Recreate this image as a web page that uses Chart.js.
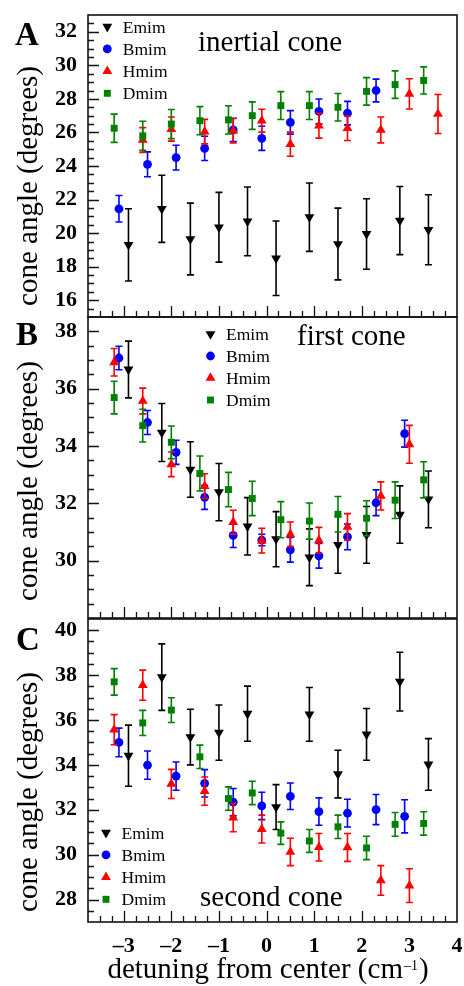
<!DOCTYPE html>
<html>
<head>
<meta charset="utf-8">
<script src="https://cdn.jsdelivr.net/npm/chart.js@4.4.1/dist/chart.umd.min.js"></script>
<style>
html,body{margin:0;padding:0;background:#fff;}
#wrap{position:relative;width:464px;height:986px;}
#wrap canvas{position:absolute;left:0;top:0;}
</style>
</head>
<body>
<div id="wrap">
<canvas id="panelA" width="464" height="986"></canvas>
<canvas id="panelB" width="464" height="986"></canvas>
<canvas id="panelC" width="464" height="986"></canvas>
</div>
<script>
/*====================================================
 cone angle vs detuning, three panels
====================================================*/

Chart.defaults.font.family="'Liberation Serif','Times New Roman',serif";
Chart.defaults.color="#000";

//=====================================================
// DATA
//=====================================================

const seriesNames=["Emim","Bmim","Hmim","Dmim"];

const xEmim=[-2.9,-2.2,-1.6,-1.0,-0.4,0.2,0.9,1.5,2.1,2.8,3.4];
const xBmim=[-3.1,-2.5,-1.9,-1.3,-0.7,-0.1,0.5,1.1,1.7,2.3,2.9];
const xHmim=[-3.2,-2.6,-2.0,-1.3,-0.7,-0.1,0.5,1.1,1.7,2.4,3.0,3.6];
const xDmim=[-3.2,-2.6,-2.0,-1.4,-0.8,-0.3,0.3,0.9,1.5,2.1,2.7,3.3];

// A : inertial cone
const aEmim=[19.3,21.45,19.65,20.35,20.7,18.5,20.95,19.35,19.95,20.75,20.2];
const aEmimErr=[2.15,2.0,2.14,2.08,2.05,2.22,2.04,2.14,2.1,2.03,2.09];
const aBmim=[21.45,24.1,24.5,25.05,26.15,25.65,26.6,27.25,27.15,28.5,null];
const aBmimErr=[0.79,0.74,0.74,0.72,0.7,0.72,0.7,0.74,0.7,0.68,null];
const aHmim=[null,25.55,26.2,26.05,26.1,26.7,25.3,26.4,26.25,26.15,28.3,27.1];
const aHmimErr=[null,0.74,0.72,0.73,0.73,0.68,0.72,0.74,0.73,0.77,0.9,1.16];
const aDmim=[26.25,25.8,26.5,26.7,26.75,27.0,27.6,27.6,27.5,28.45,28.85,29.1];
const aDmimErr=[0.84,0.87,0.87,0.84,0.84,0.82,0.83,0.83,0.82,0.82,0.82,0.81];

// B : first cone
const bEmim=[36.67,34.47,33.18,32.39,31.2,30.75,30.12,30.55,30.9,31.61,32.14];
const bEmimErr=[0.99,1.01,0.97,1.0,1.0,0.96,0.99,0.99,0.99,1.0,0.99];
const bBmim=[37.07,34.82,33.78,32.21,30.88,30.72,30.38,30.17,30.83,32.02,34.43];
const bBmimErr=[0.41,0.42,0.42,0.42,0.42,0.2,0.43,0.43,0.45,0.45,0.47];
const bHmim=[36.92,35.57,33.36,32.6,31.34,30.7,30.92,30.71,31.18,32.26,34.06,null];
const bHmimErr=[0.48,0.45,0.43,0.43,0.42,0.43,0.43,0.45,0.46,0.49,0.66,null];
const bDmim=[35.69,34.71,34.13,33.04,32.48,32.17,31.43,31.38,31.62,31.48,32.11,32.82];
const bDmimErr=[0.57,0.57,0.57,0.61,0.6,0.6,0.63,0.63,0.62,0.61,0.64,0.63];

// C : second cone
const cEmim=[34.41,37.91,35.24,35.44,36.28,32.12,36.25,33.59,35.36,37.71,34.02];
const cEmimErr=[1.36,1.48,1.24,1.23,1.23,1.0,1.2,1.06,1.15,1.31,1.15];
const cBmim=[35.0,33.99,33.5,33.18,32.34,32.17,32.6,31.92,31.85,32.01,31.71];
const cBmimErr=[0.64,0.63,0.63,0.61,0.61,0.61,0.59,0.61,0.62,0.67,0.74];
const cHmim=[35.57,37.55,33.15,32.83,31.65,31.14,30.12,30.33,30.32,28.85,28.62,null];
const cHmimErr=[0.67,0.67,0.65,0.63,0.63,0.62,0.61,0.61,0.62,0.66,0.75,null];
const cDmim=[37.7,35.87,36.44,34.36,32.5,32.75,30.96,30.61,31.24,30.3,31.35,31.39];
const cDmimErr=[0.59,0.56,0.55,0.52,0.52,0.52,0.5,0.51,0.52,0.52,0.53,0.52];

// axes
const xTickVals=[-3,-2,-1,0,1,2,3,4];
const yTicksA=[16,18,20,22,24,26,28,30,32];
const yTicksB=[30,32,34,36,38];
const yTicksC=[28,30,32,34,36,38,40];

//=====================================================
// STYLE
//=====================================================

const colors=["#000000","#0000ff","#ff0000","#008000"];
const shapes=["triangle","circle","triangle","rect"];
const turns=[180,0,0,0];
const sizes=[5.7,4.4,5.7,4.9];
const serif="'Liberation Serif','Times New Roman',serif";
const xList=[xEmim,xBmim,xHmim,xDmim];

function makeSets(ys,errs){
  return seriesNames.map((name,k)=>({
    label:name,
    data:xList[k].map((x,i)=>({x:x,y:ys[k][i],e:errs[k][i]})).filter(p=>p.y!==null),
    backgroundColor:colors[k],
    borderColor:colors[k],
    pointStyle:shapes[k],
    pointRotation:turns[k],
    pointRadius:sizes[k],
    pointBorderWidth:0,
    showLine:false,
    order:4-k
  }));
}

//=====================================================
// PLUGINS
//=====================================================

const errorBars={
  id:"errorBars",
  beforeDatasetDraw(chart,args){
    const ds=chart.data.datasets[args.index];
    const ys=chart.scales.y;
    const ctx=chart.ctx;
    ctx.save();
    ctx.strokeStyle=ds.borderColor;
    ctx.lineWidth=1.6;
    args.meta.data.forEach((pt,i)=>{
      const d=ds.data[i];
      const t=ys.getPixelForValue(d.y+d.e);
      const b=ys.getPixelForValue(d.y-d.e);
      ctx.beginPath();
      ctx.moveTo(pt.x,t);ctx.lineTo(pt.x,b);
      ctx.moveTo(pt.x-3.5,t);ctx.lineTo(pt.x+3.5,t);
      ctx.moveTo(pt.x-3.5,b);ctx.lineTo(pt.x+3.5,b);
      ctx.stroke();
    });
    ctx.restore();
  }
};

function frameTicks(yTicks){
  return {
    id:"frameTicks",
    afterDraw(chart){
      const ctx=chart.ctx,ca=chart.chartArea;
      const xs=chart.scales.x,ys=chart.scales.y;
      ctx.save();
      ctx.strokeStyle="#111";
      ctx.lineWidth=1.3;
      ctx.beginPath();
      for(let k=Math.ceil(ys.min*2);k<=Math.floor(ys.max*2);k++){
        const v=k/2;
        if(v<=ys.min||v>=ys.max) continue;
        const len=yTicks.includes(v)?11:6;
        const p=Math.round(ys.getPixelForValue(v))+0.5;
        ctx.moveTo(ca.left,p);ctx.lineTo(ca.left+len,p);
      }
      for(let k=Math.ceil(xs.min*4);k<=Math.floor(xs.max*4);k++){
        const v=k/4;
        if(v<=xs.min||v>=xs.max) continue;
        const len=Number.isInteger(v)?11:6;
        const p=Math.round(xs.getPixelForValue(v))+0.5;
        ctx.moveTo(p,ca.bottom);ctx.lineTo(p,ca.bottom-len);
      }
      ctx.stroke();
      ctx.lineWidth=1.6;
      ctx.strokeRect(ca.left,ca.top,ca.width,ca.height);
      ctx.restore();
    }
  };
}

function panelDeco(d){
  return {
    id:"panelDeco",
    afterDraw(chart){
      const ctx=chart.ctx;
      ctx.save();
      ctx.fillStyle="#000";
      ctx.textBaseline="alphabetic";
      // panel letter
      ctx.font="bold 33px "+serif;
      ctx.textAlign="left";
      ctx.fillText(d.letter,d.letterX,d.letterY);
      // title inside the box
      ctx.font="29px "+serif;
      ctx.fillText(d.title,d.titleX,d.titleY);
      // legend
      seriesNames.forEach((name,k)=>{
        const y=d.legY+k*d.legStep;
        ctx.fillStyle=colors[k];
        Chart.helpers.drawPoint(ctx,{pointStyle:shapes[k],rotation:turns[k],radius:sizes[k],borderWidth:0},d.legX,y);
        ctx.fillStyle="#000";
        ctx.font="17.5px "+serif;
        ctx.fillText(name,d.legX+15.5,y+6);
      });
      // y title
      ctx.save();
      ctx.translate(37,d.yMid);
      ctx.rotate(-Math.PI/2);
      ctx.font="29px "+serif;
      ctx.textAlign="center";
      ctx.fillText("cone angle (degrees)",0,0);
      ctx.restore();
      // x title
      if(d.xTitle){
        const main="detuning from center (cm",sup="\u20131",tail=")";
        ctx.font="29px "+serif;
        const w1=ctx.measureText(main).width,w3=ctx.measureText(tail).width;
        ctx.font="14px "+serif;
        const w2=ctx.measureText(sup).width;
        let x0=268-(w1+w2+w3+2)/2;
        ctx.textAlign="left";
        ctx.font="29px "+serif;
        ctx.fillText(main,x0,978);
        ctx.font="14px "+serif;
        ctx.fillText(sup,x0+w1+1,970);
        ctx.font="29px "+serif;
        ctx.fillText(tail,x0+w1+w2+2,978);
      }
      ctx.restore();
    }
  };
}

//=====================================================
// PANELS
//=====================================================

function panelChart(id,cfg){
  return new Chart(document.getElementById(id),{
    type:"scatter",
    data:{datasets:makeSets(cfg.ys,cfg.errs)},
    options:{
      responsive:false,
      animation:false,
      events:[],
      layout:{padding:{left:0,right:7,top:cfg.top,bottom:986-cfg.bottom-cfg.xh}},
      plugins:{legend:{display:false},tooltip:{enabled:false}},
      scales:{
        x:{
          type:"linear",position:"bottom",min:-3.75,max:4,
          grid:{display:false,drawTicks:false},
          border:{display:false},
          afterBuildTicks:s=>{s.ticks=xTickVals.map(v=>({value:v}));},
          afterFit:s=>{s.height=cfg.xh;s.paddingLeft=0;s.paddingRight=0;},
          ticks:{
            display:cfg.xh>0,autoSkip:false,maxRotation:0,padding:11,
            font:{size:22,weight:"bold"},color:"#000",
            callback:v=>v<0?"\u2013"+Math.abs(v):String(v)
          }
        },
        y:{
          type:"linear",min:cfg.min,max:cfg.max,
          grid:{display:false,drawTicks:false},
          border:{display:false},
          afterBuildTicks:s=>{s.ticks=cfg.ticks.map(v=>({value:v}));},
          afterFit:s=>{s.width=88;s.paddingTop=0;s.paddingBottom=0;},
          ticks:{padding:11,font:{size:22,weight:"bold"},color:"#000"}
        }
      }
    },
    plugins:[errorBars,frameTicks(cfg.ticks),panelDeco(cfg.deco)]
  });
}

panelChart("panelA",{
  top:15,bottom:317,xh:0,min:15,max:33,ticks:yTicksA,
  ys:[aEmim,aBmim,aHmim,aDmim],errs:[aEmimErr,aBmimErr,aHmimErr,aDmimErr],
  deco:{letter:"A",letterX:15,letterY:45,title:"inertial cone",titleX:198,titleY:51,
        legX:107.3,legY:26.7,legStep:22.2,yMid:186}
});

panelChart("panelB",{
  top:317,bottom:618,xh:0,min:28,max:38.5,ticks:yTicksB,
  ys:[bEmim,bBmim,bHmim,bDmim],errs:[bEmimErr,bBmimErr,bHmimErr,bDmimErr],
  deco:{letter:"B",letterX:16,letterY:345,title:"first cone",titleX:297,titleY:345,
        legX:210.5,legY:334,legStep:22,yMid:481}
});

panelChart("panelC",{
  top:619,bottom:922,xh:64,min:27,max:40.5,ticks:yTicksC,
  ys:[cEmim,cBmim,cHmim,cDmim],errs:[cEmimErr,cBmimErr,cHmimErr,cDmimErr],
  deco:{letter:"C",letterX:16,letterY:650,title:"second cone",titleX:200,titleY:906,
        legX:106,legY:832.7,legStep:22.2,yMid:792,xTitle:true}
});
</script>
</body>
</html>
